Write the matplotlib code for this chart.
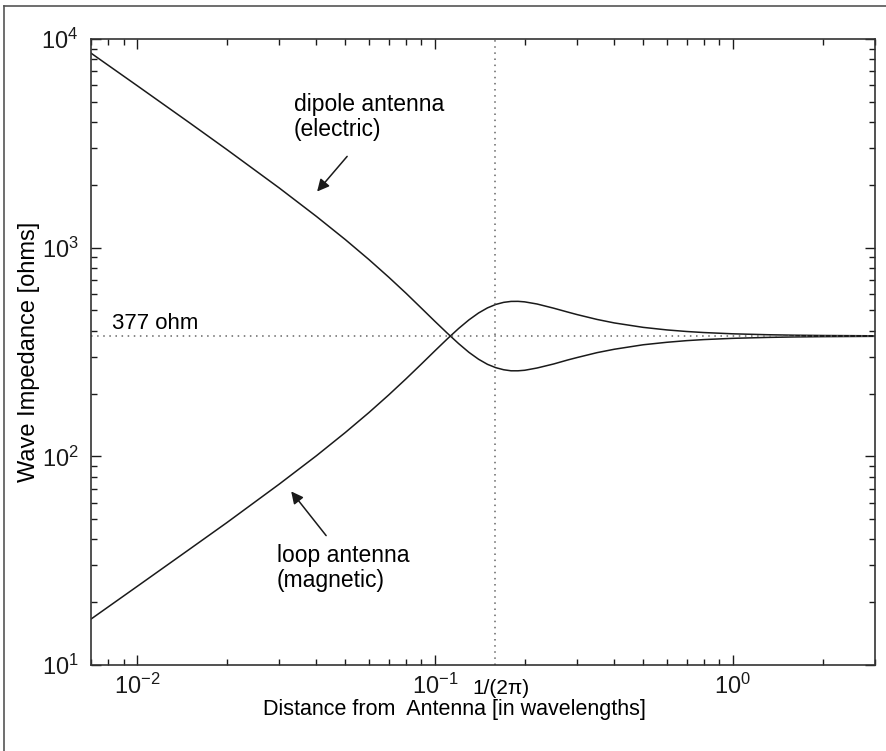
import numpy as np
import matplotlib
matplotlib.use('Agg')
import matplotlib.pyplot as plt
from matplotlib.lines import Line2D

plt.rcParams['font.family'] = ['Liberation Sans', 'DejaVu Sans']
plt.rcParams['mathtext.fontset'] = 'custom'
plt.rcParams['mathtext.rm'] = 'Liberation Sans'
plt.rcParams['mathtext.it'] = 'Liberation Sans:italic'
plt.rcParams['mathtext.default'] = 'regular'
plt.rcParams['axes.unicode_minus'] = False

# distance from antenna [wavelengths]
dist = [0.007, 0.01, 0.015, 0.02, 0.03, 0.04, 0.05, 0.06, 0.07, 0.08, 0.09,
        0.10, 0.11, 0.12, 0.13, 0.14, 0.15, 0.16, 0.17, 0.18, 0.19, 0.20,
        0.22, 0.25, 0.28, 0.30, 0.35, 0.40, 0.50, 0.60, 0.70, 0.80, 1.0,
        1.3, 1.6, 2.0, 3.0]
# wave impedance [ohms]
z_dipole = [8555, 5977, 3965, 2953, 1932, 1411, 1093, 877, 721, 604, 513,
            443, 389, 347, 315, 292, 276, 266, 260, 257, 257, 258.5,
            265, 277, 290, 297.5, 314, 326, 342.5, 352, 358.5, 362.7, 367.7,
            371.4, 373.3, 374.6, 375.9]
z_loop = [16.6, 23.8, 35.9, 48.1, 73.6, 100.7, 130.1, 162.1, 197.2, 235.5, 276.9,
          320.7, 365.6, 409.8, 450.8, 486.3, 514.5, 534.6, 546.9, 552.6, 553.0, 549.9,
          537.1, 513.0, 490.6, 477.8, 452.9, 435.8, 415.0, 403.5, 396.5, 391.9, 386.5,
          382.7, 380.7, 379.4, 378.1]

z_free = 377
x_near = 1 / (2 * np.pi)

fig = plt.figure(figsize=(8.87, 7.51), dpi=100)
ax = fig.add_axes([91/887, 86/751, 784/887, 626/751])

ax.loglog(dist, z_dipole, color='#1a1a1a', lw=1.1)
ax.loglog(dist, z_loop, color='#1a1a1a', lw=1.1)
ax.axhline(z_free, color='#666666', ls=(0, (1, 3)), lw=1.1)
ax.axvline(x_near, color='#666666', ls=(0, (1, 3)), lw=1.1)

ax.set_xlim(0.007, 3)
ax.set_ylim(10, 1e4)

ax.tick_params(which='both', direction='in', top=True, right=True,
               labelsize=17, colors='#1a1a1a')
ax.tick_params(which='major', length=7, width=1, pad=6)
ax.tick_params(which='minor', length=4, width=1)
ax.tick_params(axis='y', which='major', pad=9)
for s in ax.spines.values():
    s.set_linewidth(1.2)
    s.set_color('#333333')

ax.set_xlabel('Distance from  Antenna [in wavelengths]', fontsize=15.5, x=0.463, labelpad=0)
ax.set_ylabel('Wave Impedance [ohms]', fontsize=17, labelpad=1)

ax.text(0.00824, 408, '377 ohm', fontsize=16, va='baseline', ha='left')
ax.text(x_near * 1.045, -0.046, '1/(2π)', fontsize=15, ha='center', va='baseline',
        transform=ax.get_xaxis_transform())

ax.text(0.0336, 5500, 'dipole antenna\n(electric)', fontsize=16.5, va='top',
        ha='left', linespacing=1.1)
ax.text(0.0295, 38, 'loop antenna\n(magnetic)', fontsize=16.5, va='top',
        ha='left', linespacing=1.1)

arrow = dict(arrowstyle='-|>', color='#1a1a1a', lw=1.1, mutation_scale=18,
             shrinkA=0, shrinkB=0)
ax.annotate('', xy=(0.0402, 1858), xytext=(0.0507, 2738), arrowprops=arrow)
ax.annotate('', xy=(0.0329, 67.9), xytext=(0.0431, 41.7), arrowprops=arrow)

# frame edges of the scanned figure
fig.add_artist(Line2D([4/887, 4/887], [0, 1 - 6/751], color='#555555', lw=1.2))
fig.add_artist(Line2D([4/887, 1], [1 - 6/751, 1 - 6/751], color='#555555', lw=1.2))

fig.savefig('out.png', dpi=100)
